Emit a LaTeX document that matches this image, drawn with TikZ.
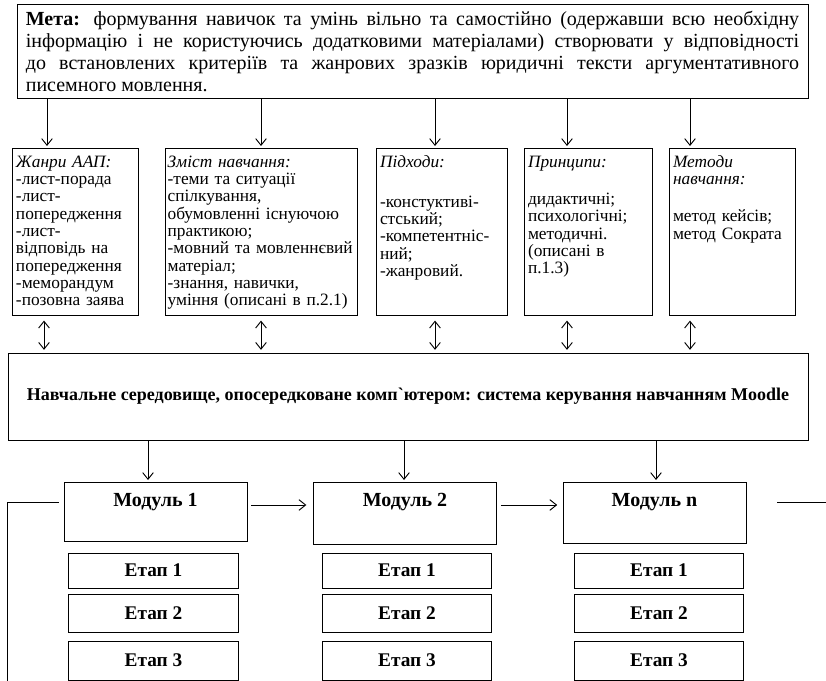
\documentclass[tikz,border=0pt]{standalone}
\usepackage{fontspec}
\setmainfont{Liberation Serif}
\usetikzlibrary{arrows.meta, positioning}

\begin{document}
\begin{tikzpicture}[
  x=0.75pt, y=-0.75pt,
  line width=0.7pt,
  goalbox/.style={draw, text width=580pt, align=justify, inner xsep=6.6pt, minimum height=70.5pt, font=\fontsize{15}{16.5}\selectfont},
  colbox/.style={draw, anchor=north, align=left, inner xsep=3pt, inner ysep=4pt, text height=10pt, text depth=107.25pt, font=\fontsize{13}{13}\selectfont},
  envbox/.style={draw, minimum width=600pt, minimum height=65.25pt, font=\bfseries\fontsize{13.5}{15}\selectfont},
  modbox/.style={draw, anchor=north, minimum width=137.25pt},
  modtitle/.style={anchor=north, yshift=-4.5pt, font=\bfseries\fontsize{15}{16}\selectfont},
  etap/.style={draw, minimum width=127pt, font=\bfseries\fontsize{14.5}{15}\selectfont},
  arrow/.style={-{Straight Barb[length=5pt,width=8pt]}},
  twoway/.style={{Straight Barb[length=5pt,width=8pt]}-{Straight Barb[length=5pt,width=8pt]}}
]
\useasboundingbox (0,0) rectangle (826,681);

% goal
\node[goalbox] (goal) at (412.5,51) {\textbf{Мета:} формування навичок та умінь вільно та самостійно (одержавши всю необхідну\linebreak інформацію і не користуючись додатковими матеріалами) створювати у відповідності\linebreak до встановлених критеріїв та жанрових зразків юридичні тексти аргументативного\linebreak писемного мовлення.};

% five columns
\node[colbox, text width=88.5pt] (genres) at (75,148) {\textit{Жанри ААП:}\\-лист-порада\\-лист-\\попередження\\-лист-\\відповідь на\\попередження\\-меморандум\\-позовна заява};
\node[colbox, inner xsep=2pt, text width=140pt] (content) at (261,148) {\textit{Зміст навчання:}\\-теми та ситуації\\спілкування,\\обумовленні існуючою\\практикою;\\-мовний та мовленнєвий\\матеріал;\\-знання, навички,\\уміння (описані в п.2.1)};
\node[colbox, text width=92.25pt] (approach) at (441.5,148) {\textit{Підходи:}\\[17pt]-констуктиві-\\стський;\\-компетентніс-\\ний;\\-жанровий.};
\node[colbox, text width=90pt] (princ) at (588,148) {\textit{Принципи:}\\[15pt]дидактичні;\\психологічні;\\методичні.\\(описані в\\п.1.3)};
\node[colbox, text width=88.5pt] (methods) at (732,148) {\textit{Методи}\\\textit{навчання:}\\[15pt]метод кейсів;\\метод Сократа};

\draw[arrow, shorten >=1.5pt] (goal.south -| 47,0) -- (genres.north -| 47,0);
\draw[arrow, shorten >=1.5pt] (goal.south -| 261,0) -- (content.north -| 261,0);
\draw[arrow, shorten >=1.5pt] (goal.south -| 435,0) -- (approach.north -| 435,0);
\draw[arrow, shorten >=1.5pt] (goal.south -| 567,0) -- (princ.north -| 567,0);
\draw[arrow, shorten >=1.5pt] (goal.south -| 690,0) -- (methods.north -| 690,0);

% environment
\node[envbox] (env) at (408,396.5) {Навчальне середовище, опосередковане комп{\addfontfeatures{Ligatures=TeXOff}`}ютером: система керування навчанням Moodle};

\draw[twoway, shorten <=3.5pt, shorten >=2pt] (genres.south -| 44,0) -- (env.north -| 44,0);
\draw[twoway, shorten <=3.5pt, shorten >=2pt] (content.south -| 261,0) -- (env.north -| 261,0);
\draw[twoway, shorten <=3.5pt, shorten >=2pt] (approach.south -| 435,0) -- (env.north -| 435,0);
\draw[twoway, shorten <=3.5pt, shorten >=2pt] (princ.south -| 567,0) -- (env.north -| 567,0);
\draw[twoway, shorten <=3.5pt, shorten >=2pt] (methods.south -| 690,0) -- (env.north -| 690,0);

% modules
\node[modbox, minimum height=44.25pt, label={[modtitle]north:Модуль 1}] (mod1) at (155.5,482) {};
\node[modbox, minimum height=46.5pt, label={[modtitle]north:Модуль 2}] (mod2) at (405,482) {};
\node[modbox, minimum height=45.75pt, label={[modtitle]north:Модуль n}] (modn) at (654.5,482) {};

\draw[arrow, shorten >=1.5pt] (env.south -| 148,0) -- (mod1.north -| 148,0);
\draw[arrow, shorten >=1.5pt] (env.south -| 404,0) -- (mod2.north -| 404,0);
\draw[arrow, shorten >=1.5pt] (env.south -| 656,0) -- (modn.north -| 656,0);

\draw[arrow, shorten <=3pt, shorten >=5pt] (mod1.east |- 0,505) -- (mod2.west |- 0,505);
\draw[arrow, shorten <=3pt, shorten >=4pt] (mod2.east |- 0,505) -- (modn.west |- 0,505);

\coordinate (outright) at (826,502);
\coordinate (loopdown) at (7,681);
\draw[shorten <=23pt] (modn.east |- outright) -- (outright);
\draw[shorten <=3.75pt] (mod1.west |- 0,502) -| (loopdown);

% stages
\node[etap, minimum height=26.25pt] (st11) at (153.5,570.5) {Етап 1};
\node[etap, minimum height=28.5pt] (st12) at (153.5,613) {Етап 2};
\node[etap, minimum height=29.25pt] (st13) at (153.5,660.5) {Етап 3};
\node[etap, minimum height=26.25pt] (st21) at (407,570.5) {Етап 1};
\node[etap, minimum height=28.5pt] (st22) at (407,613) {Етап 2};
\node[etap, minimum height=29.25pt] (st23) at (407,660.5) {Етап 3};
\node[etap, minimum height=26.25pt] (st31) at (659,570.5) {Етап 1};
\node[etap, minimum height=28.5pt] (st32) at (659,613) {Етап 2};
\node[etap, minimum height=29.25pt] (st33) at (659,660.5) {Етап 3};
\end{tikzpicture}
\end{document}
